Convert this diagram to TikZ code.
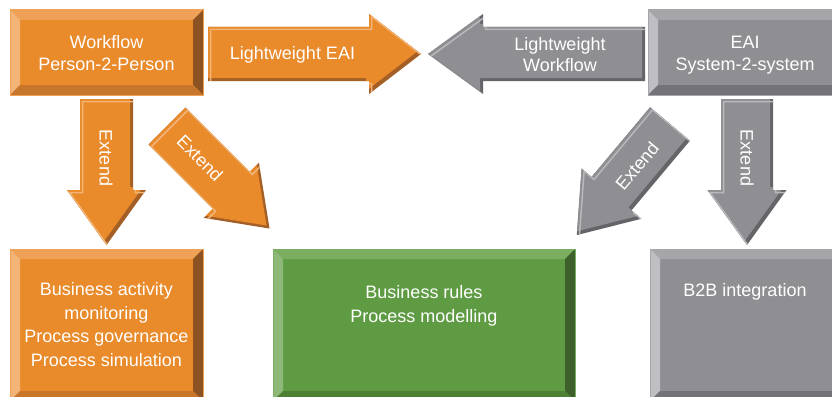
\documentclass[tikz,border=0pt]{standalone}
\usepackage{fontspec}
\setmainfont{Liberation Sans}
% orange
\definecolor{obase}{HTML}{E98A2B}
\definecolor{otop}{HTML}{EFA257}
\definecolor{oleft}{HTML}{F3B577}
\definecolor{odark}{HTML}{8C5222}
\definecolor{obot}{HTML}{C8762C}
\definecolor{olight}{HTML}{F3B577}
\definecolor{oadark}{HTML}{A35F25}
% gray
\definecolor{gbase}{HTML}{8F8E92}
\definecolor{gtop}{HTML}{A6A5A9}
\definecolor{gleft}{HTML}{BFBEC2}
\definecolor{gdark}{HTML}{5E5D61}
\definecolor{gbot}{HTML}{737276}
\definecolor{glight}{HTML}{B8B7BB}
\definecolor{gadark}{HTML}{656468}
% green
\definecolor{nbase}{HTML}{5E9B43}
\definecolor{ntop}{HTML}{7CAE62}
\definecolor{nleft}{HTML}{8DB877}
\definecolor{ndark}{HTML}{3D5F2C}
\definecolor{nbot}{HTML}{4D8035}

\newcommand\bevbox[5]{%
  \fill[#5base] (#1,#2) rectangle (#3,#4);
  \fill[#5top] (#1,#2) -- (#3,#2) -- ({#3-10},{#2+10}) -- ({#1+10},{#2+10}) -- cycle;
  \fill[#5left] (#1,#2) -- ({#1+10},{#2+10}) -- ({#1+10},{#4-10}) -- (#1,#4) -- cycle;
  \fill[#5dark] (#3,#2) -- (#3,#4) -- ({#3-10},{#4-10}) -- ({#3-10},{#2+10}) -- cycle;
  \fill[#5bot] (#1,#4) -- (#3,#4) -- ({#3-10},{#4-10}) -- ({#1+10},{#4-10}) -- cycle;
  \draw[#5top,line width=1] (#1,#2) rectangle (#3,#4);}

\newcommand\blkarrow[8]{%
  \fill[#8adark,shift={(#1,#2)},rotate=#3] (0,-#5) -- (#4,-#5) -- (#4,-#6) -- ({#4+#7},0) -- (#4,#6) -- (#4,#5) -- (0,#5) -- cycle;
  \begin{scope}
    \clip[shift={(#1,#2)},rotate=#3] (0,-#5) -- (#4,-#5) -- (#4,-#6) -- ({#4+#7},0) -- (#4,#6) -- (#4,#5) -- (0,#5) -- cycle;
    \fill[#8base,shift={({#1-3},{#2-3})},rotate=#3] (0,-#5) -- (#4,-#5) -- (#4,-#6) -- ({#4+#7},0) -- (#4,#6) -- (#4,#5) -- (0,#5) -- cycle;
    \draw[#8light,line width=1.5,shift={({#1+2.5},{#2+2.5})},rotate=#3] (0,-#5) -- (#4,-#5) -- (#4,-#6) -- ({#4+#7},0) -- (#4,#6) -- (#4,#5) -- (0,#5) -- cycle;
  \end{scope}}

\begin{document}
\begin{tikzpicture}[x=1pt,y=-1pt,
  txt/.style={text=white,font=\fontsize{18}{23}\selectfont,align=center,inner sep=0pt}]
\useasboundingbox (0,0) rectangle (832,396);
\fill[white] (0,0) rectangle (832,396);
\clip (0,0) rectangle (832,396);

% top boxes
\bevbox{10}{10}{203}{95}{o}
\bevbox{648}{10}{842}{95}{g}
% bottom boxes
\bevbox{10}{249}{203}{401}{o}
\bevbox{273}{249}{575}{401}{n}
\bevbox{650}{249}{843}{401}{g}

% horizontal arrows
\blkarrow{208}{54}{0}{161}{27}{40}{52}{o}
\blkarrow{645}{54}{180}{162}{27}{40}{55}{g}
% down arrows
\blkarrow{106.5}{99}{-90}{91}{26.5}{39.5}{55}{o}
\blkarrow{747}{99}{-90}{91}{26}{39.5}{55}{g}
% diagonal arrows
\blkarrow{167}{126}{-45}{91}{26}{39}{54}{o}
\blkarrow{670}{124}{-130}{91}{26}{39}{54}{g}

% texts
\node[txt,font=\fontsize{18}{22}\selectfont] (wf) at (106.5,53) {Workflow\\Person-2-Person};
\node[txt,font=\fontsize{18}{22}\selectfont] (eai) at (745,55) {EAI\\System-2-system};
\node[txt] (lweai) at (292.5,55) {Lightweight EAI};
\node[txt,font=\fontsize{18}{21}\selectfont] (lwwf) at (560,54.5) {Lightweight\\Workflow};
\node[txt,rotate=-90] (ext1) at (106,158) {Extend};
\node[txt,rotate=-45] (ext2) at (200,158) {Extend};
\node[txt,rotate=50] (ext3) at (637,166) {Extend};
\node[txt,rotate=-90] (ext4) at (747,158) {Extend};
\node[txt,font=\fontsize{18}{23.5}\selectfont] (bam) at (106.5,324.5) {Business activity\\monitoring\\Process governance\\Process simulation};
\node[txt,font=\fontsize{18}{24}\selectfont] (br) at (424,306) {Business rules\\Process modelling};
\node[txt] (b2b) at (745,292) {B2B integration};
\end{tikzpicture}
\end{document}
